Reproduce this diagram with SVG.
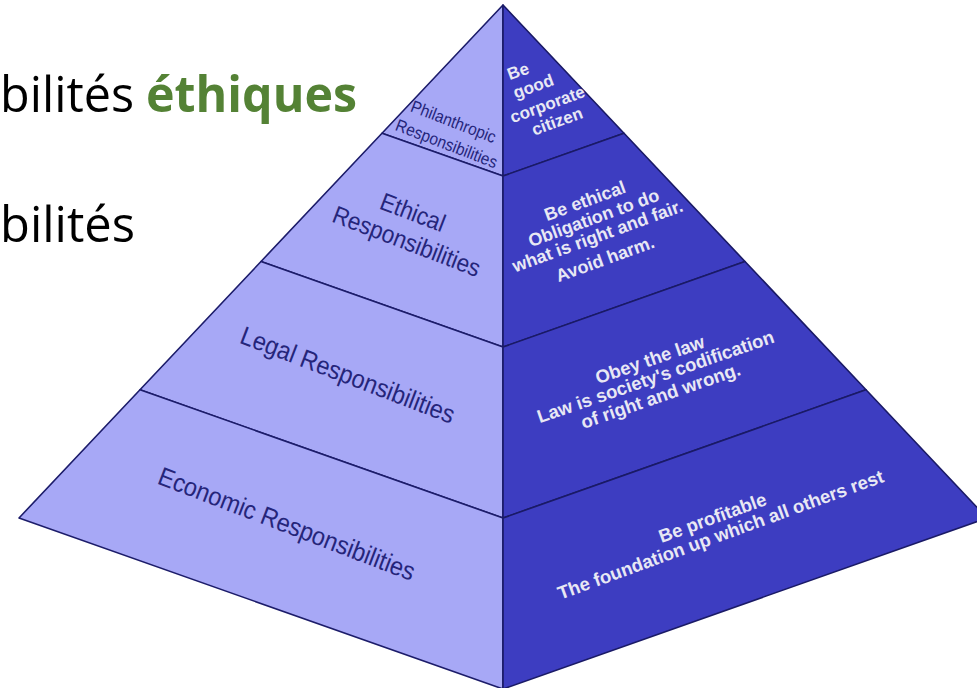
<svg xmlns="http://www.w3.org/2000/svg" width="977" height="688" viewBox="0 0 977 688">
<style>
.lf{fill:#a7a8f6;stroke:#1c1c6a;stroke-width:1.6;stroke-linejoin:round}
.rf{fill:#3d3dc1;stroke:#1a1a66;stroke-width:1.6;stroke-linejoin:round}
.lt{font-family:"Liberation Sans",Arial,sans-serif;fill:#25257a;text-anchor:middle}
.rt{font-family:"Liberation Sans",Arial,sans-serif;font-weight:bold;fill:#e8e8f4;text-anchor:middle}
.hd{font-family:"Open Sans","Noto Sans",sans-serif;font-size:50px;fill:#000}
.hg{font-weight:bold;fill:#548235}
</style>
<rect width="977" height="688" fill="#fff"/>
<g id="header">
<text class="hd" x="0" y="112" textLength="134" lengthAdjust="spacingAndGlyphs">bilités</text>
<text class="hd hg" x="146" y="112" textLength="211" lengthAdjust="spacingAndGlyphs">éthiques</text>
<text class="hd" x="0" y="242" textLength="135" lengthAdjust="spacingAndGlyphs">bilités</text>
</g>
<g id="tier-philanthropic">
<polygon class="lf" points="503,5 382,133.25 503,176"/>
<polygon class="rf" points="503,5 503,176 624,133.25"/>
<g class="lt" font-size="15.5">
<text transform="translate(453,123) rotate(21) scale(1,1.1)" y="4">Philanthropic</text>
<text transform="translate(446,145) rotate(21) scale(1,1.1)" y="4">Responsibilities</text>
</g>
<g class="rt" font-size="17">
<text transform="translate(518,71) rotate(-20)" y="6">Be</text>
<text transform="translate(534,88) rotate(-20)" y="4">good</text>
<text transform="translate(548,106) rotate(-20)" y="4">corporate</text>
<text transform="translate(557,121) rotate(-20)" y="6">citizen</text>
</g>
</g>
<g id="tier-ethical">
<polygon class="lf" points="382,133.25 261,261.5 503,347 503,176"/>
<polygon class="rf" points="503,176 503,347 745,261.5 624,133.25"/>
<g class="lt" font-size="22.5">
<text transform="translate(413,212) rotate(21) scale(1,1.1)" y="8">Ethical</text>
<text transform="translate(406,243) rotate(21) scale(1,1.1)" y="6">Responsibilities</text>
</g>
<g class="rt" font-size="18">
<text transform="translate(585,201) rotate(-20)" y="6">Be ethical</text>
<text transform="translate(594,219) rotate(-20)" y="5">Obligation to do</text>
<text transform="translate(598,237) rotate(-20)" y="5">what is right and fair.</text>
<text transform="translate(605,259) rotate(-20)" y="6">Avoid harm.</text>
</g>
</g>
<g id="tier-legal">
<polygon class="lf" points="261,261.5 140,389.75 503,518 503,347"/>
<polygon class="rf" points="503,347 503,518 866,389.75 745,261.5"/>
<g class="lt" font-size="23.5">
<text transform="translate(347,377) rotate(21) scale(1,1.1)" y="6">Legal Responsibilities</text>
</g>
<g class="rt" font-size="18.5">
<text transform="translate(650,360) rotate(-19)" y="6">Obey the law</text>
<text transform="translate(656,378) rotate(-19)" y="5">Law is society's codification</text>
<text transform="translate(661,397) rotate(-19)" y="5">of right and wrong.</text>
</g>
</g>
<g id="tier-economic">
<polygon class="lf" points="140,389.75 19,518 503,689 503,518"/>
<polygon class="rf" points="503,518 503,689 987,518 866,389.75"/>
<g class="lt" font-size="23.5">
<text transform="translate(286,526) rotate(21) scale(1,1.1)" y="6">Economic Responsibilities</text>
</g>
<g class="rt" font-size="18.5">
<text transform="translate(713,519) rotate(-20)" y="5">Be profitable</text>
<text transform="translate(721,536) rotate(-20)" y="5">The foundation up which all others rest</text>
</g>
</g>
</svg>
